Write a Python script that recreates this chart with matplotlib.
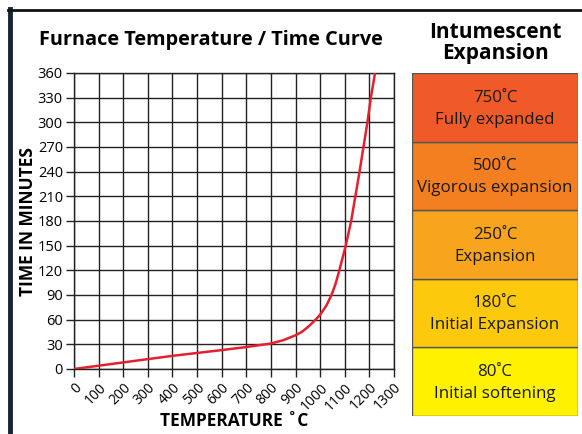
import matplotlib
matplotlib.use("Agg")
import matplotlib.pyplot as plt
from matplotlib.lines import Line2D

plt.rcParams['font.family'] = ['Open Sans', 'DejaVu Sans']

# furnace curve
temps = [0, 100, 200, 300, 400, 500, 600, 700, 800, 850, 900, 925, 950, 975,
         1000, 1025, 1046, 1062, 1078, 1104, 1126, 1143, 1160, 1176, 1192,
         1206, 1223]
times = [0, 4, 8, 12, 16, 19.5, 23, 26.7, 31, 35, 41, 45, 51, 58,
         66, 77, 90, 103, 120, 150, 180, 210, 240, 270, 300,
         330, 360]

x_ticks = list(range(0, 1400, 100))
y_ticks = list(range(0, 390, 30))

stage_temps = ["80˚C", "180˚C", "250˚C", "500˚C", "750˚C"]
stage_names = ["Initial softening", "Initial Expansion", "Expansion",
               "Vigorous expansion", "Fully expanded"]
stage_colors = ["#FFF100", "#FDC90C", "#F8A51D", "#F37F21", "#F05A28"]

W, H = 582, 434
fig = plt.figure(figsize=(W / 100, H / 100), dpi=100)

ax = fig.add_axes([74 / W, 1 - 369 / H, 320 / W, 296 / H])
ax.plot(temps, times, color="#E3202F", lw=1.8, zorder=3)
ax.set_xlim(0, 1300)
ax.set_ylim(0, 360)
ax.set_xticks(x_ticks)
ax.set_yticks(y_ticks)
ax.set_xticklabels([str(t) for t in x_ticks], rotation=45, ha="right",
                   rotation_mode="anchor", fontsize=10)
ax.set_yticklabels([str(t) for t in y_ticks], fontsize=10.5)
ax.tick_params(length=6, width=1, color="#222222", pad=2)
ax.grid(True, color="#222222", lw=1)
for s in ax.spines.values():
    s.set_color("#222222")
    s.set_linewidth(1)
ax.set_xlabel("TEMPERATURE ˚C", fontsize=12.5, fontweight="bold")
ax.xaxis.set_label_coords(0.5, -0.145)
ax.set_ylabel("TIME IN MINUTES", fontsize=12.5, fontweight="bold")
ax.yaxis.set_label_coords(-0.115, 0.497)

fig.text(211 / W, 1 - 40 / H, "Furnace Temperature / Time Curve",
         ha="center", va="center", fontsize=14.3, fontweight="bold")
fig.text(495 / W, 1 - 43 / H, "Intumescent\nExpansion", ha="center",
         va="center", fontsize=15, fontweight="bold", linespacing=1.0)

# expansion stages panel
ax2 = fig.add_axes([412 / W, 1 - 416 / H, 166 / W, 343 / H])
for i, (t, n, c) in enumerate(zip(stage_temps, stage_names, stage_colors)):
    ax2.bar(0.5, 1, bottom=i, width=1, color=c, edgecolor="#555555", lw=1)
    ax2.text(0.5, i + 0.48, f"{t}\n{n}", ha="center", va="center",
             fontsize=12.2, linespacing=1.5, color="#1a1a1a")
ax2.set_xlim(0, 1)
ax2.set_ylim(0, 5)
ax2.axis("off")

# page frame
fig.add_artist(Line2D([10 / W, 10 / W], [0, 1 - 9 / H], color="#152535", lw=3.5))
fig.add_artist(Line2D([8 / W, 1], [1 - 10 / H, 1 - 10 / H], color="#111111", lw=2))

fig.savefig("out.png", dpi=100)
